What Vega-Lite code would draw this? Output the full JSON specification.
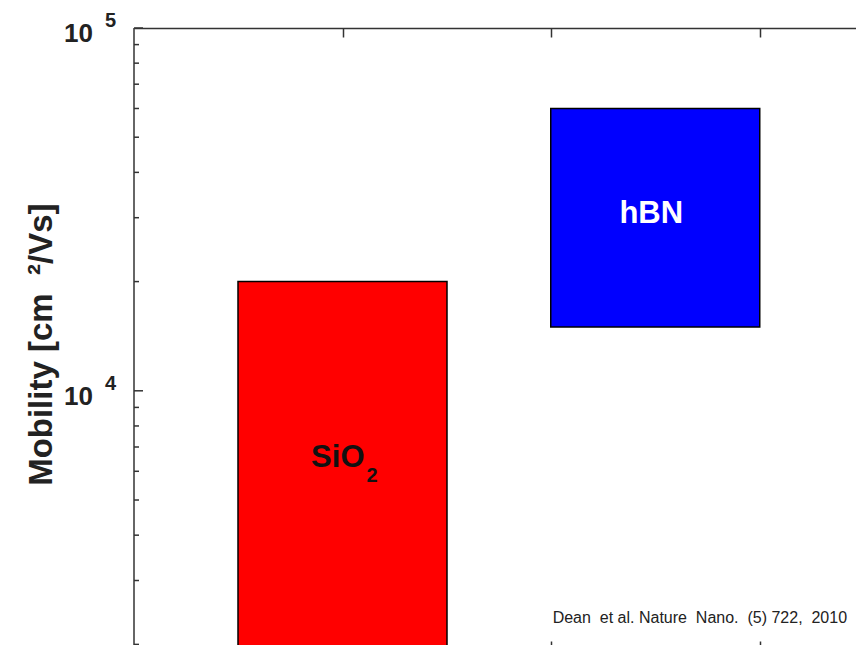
{
  "$schema": "https://vega.github.io/schema/vega-lite/v6.json",
  "width": 834,
  "height": 622,
  "autosize": "none",
  "padding": {"left": 134, "top": 28, "right": 0, "bottom": 0},
  "background": "white",
  "config": {
    "font": "Liberation Sans",
    "view": {"stroke": null},
    "axis": {"domainColor": "#333", "domainWidth": 1.5, "tickColor": "#333", "tickWidth": 1.5, "grid": false}
  },
  "resolve": {"axis": {"x": "independent"}},
  "layer": [
    {
      "data": {"values": [
        {"material": "SiO2", "pos": 1, "low": 1000, "high": 20000},
        {"material": "hBN", "pos": 2.5, "low": 15000, "high": 60000}
      ]},
      "mark": {"type": "bar", "width": 209, "stroke": "black", "strokeWidth": 1.5, "clip": true},
      "encoding": {
        "x": {"field": "pos", "type": "quantitative",
          "scale": {"domain": [0, 4], "nice": false, "zero": false, "padding": 0},
          "axis": {"orient": "bottom", "values": [1, 2, 3], "labels": false, "tickSize": -9, "title": null}},
        "y": {"field": "low", "type": "quantitative",
          "scale": {"type": "log", "domain": [1930, 100000], "nice": false}, "axis": null},
        "y2": {"field": "high"},
        "color": {"field": "material", "type": "nominal",
          "scale": {"domain": ["SiO2", "hBN"], "range": ["#ff0000", "#0000ff"]}, "legend": null}
      }
    },
    {
      "data": {"values": [{}]},
      "mark": {"type": "rule", "color": "#333", "strokeWidth": 1.5},
      "encoding": {
        "x": {"datum": 0, "type": "quantitative", "axis": null},
        "y": {"datum": 1930, "type": "quantitative", "axis": null},
        "y2": {"datum": 100000}
      }
    },
    {
      "data": {"values": [{"v": 2000}, {"v": 3000}, {"v": 4000}, {"v": 5000}, {"v": 6000}, {"v": 7000}, {"v": 8000}, {"v": 9000}, {"v": 20000}, {"v": 30000}, {"v": 40000}, {"v": 50000}, {"v": 60000}, {"v": 70000}, {"v": 80000}, {"v": 90000}]},
      "mark": {"type": "tick", "orient": "horizontal", "size": 5, "thickness": 1.5, "xOffset": 2.5, "color": "#333", "opacity": 1},
      "encoding": {
        "x": {"datum": 0, "type": "quantitative", "axis": null},
        "y": {"field": "v", "type": "quantitative", "axis": null}
      }
    },
    {
      "data": {"values": [{"v": 10000, "e": "4"}, {"v": 100000, "e": "5"}]},
      "layer": [
        {
          "mark": {"type": "tick", "orient": "horizontal", "size": 9, "thickness": 1.5, "xOffset": 4.5, "color": "#333", "opacity": 1},
          "encoding": {
            "x": {"datum": 0, "type": "quantitative", "axis": null},
            "y": {"field": "v", "type": "quantitative", "axis": null}
          }
        },
        {
          "mark": {"type": "text", "text": "10", "align": "right", "baseline": "alphabetic", "dx": -41, "dy": 14, "fontSize": 26, "fontWeight": "bold", "color": "#222"},
          "encoding": {
            "x": {"datum": 0, "type": "quantitative", "axis": null},
            "y": {"field": "v", "type": "quantitative", "axis": null}
          }
        },
        {
          "mark": {"type": "text", "align": "left", "baseline": "alphabetic", "dx": -29, "dy": -1, "fontSize": 20, "fontWeight": "bold", "color": "#222"},
          "encoding": {
            "x": {"datum": 0, "type": "quantitative", "axis": null},
            "y": {"field": "v", "type": "quantitative", "axis": null},
            "text": {"field": "e"}
          }
        }
      ]
    },
    {
      "data": {"values": [{}]},
      "mark": {"type": "text", "text": "Mobility [cm\u00a0\u00a0²/Vs]", "angle": 270, "align": "center", "baseline": "alphabetic", "dy": -82, "fontSize": 33, "fontWeight": "bold", "color": "#222"},
      "encoding": {
        "x": {"datum": 0, "type": "quantitative", "axis": null},
        "y": {"datum": 13400, "type": "quantitative", "axis": null}
      }
    },
    {
      "data": {"values": [{}]},
      "mark": {"type": "text", "text": "SiO", "align": "right", "baseline": "alphabetic", "dx": 22, "fontSize": 31, "fontWeight": "bold", "color": "#111"},
      "encoding": {
        "x": {"datum": 1, "type": "quantitative", "axis": null},
        "y": {"datum": 6175, "type": "quantitative", "axis": null}
      }
    },
    {
      "data": {"values": [{}]},
      "mark": {"type": "text", "text": "2", "align": "left", "baseline": "alphabetic", "dx": 24, "dy": 15, "fontSize": 20, "fontWeight": "bold", "color": "#111"},
      "encoding": {
        "x": {"datum": 1, "type": "quantitative", "axis": null},
        "y": {"datum": 6175, "type": "quantitative", "axis": null}
      }
    },
    {
      "data": {"values": [{}]},
      "mark": {"type": "text", "text": "hBN", "align": "center", "baseline": "alphabetic", "dx": -4, "fontSize": 31, "fontWeight": "bold", "color": "white"},
      "encoding": {
        "x": {"datum": 2.5, "type": "quantitative",
          "axis": {"orient": "top", "values": [1, 2, 3], "labels": false, "tickSize": -9, "title": null}},
        "y": {"datum": 29000, "type": "quantitative", "axis": null}
      }
    },
    {
      "data": {"values": [{}]},
      "mark": {"type": "text", "text": "Dean\u00a0\u00a0et al. Nature\u00a0\u00a0Nano.\u00a0\u00a0(5) 722,\u00a0\u00a02010", "align": "right", "baseline": "alphabetic", "fontSize": 16, "color": "#222"},
      "encoding": {
        "x": {"datum": 3.42, "type": "quantitative", "axis": null},
        "y": {"datum": 2296, "type": "quantitative", "axis": null}
      }
    }
  ]
}
